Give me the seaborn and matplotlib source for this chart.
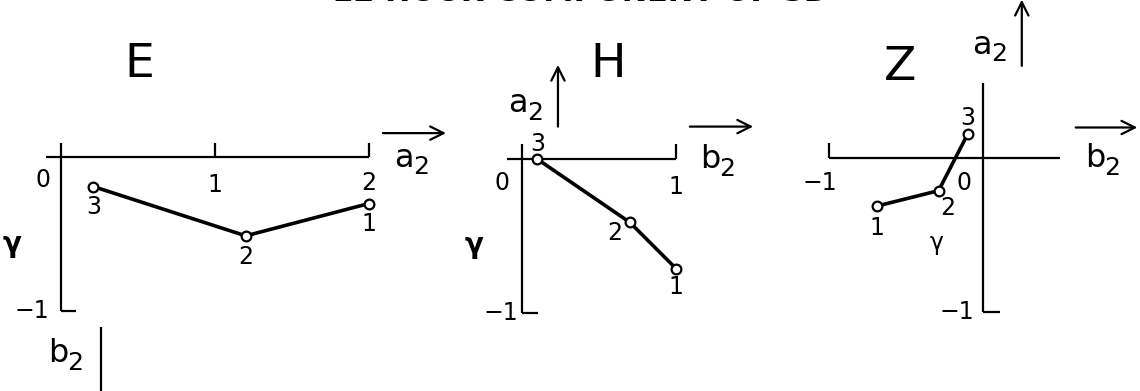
import matplotlib
matplotlib.use("Agg")
import matplotlib.pyplot as plt
import seaborn as sns
import pandas as pd

# Phase trajectories of the 12-hour component for the three field components.
station_labels = ["1", "2", "3"]

# E: horizontal a2, vertical b2
e_a2 = [2.00, 1.20, 0.21]
e_b2 = [-0.30, -0.51, -0.19]

# H: horizontal b2, vertical a2
h_b2 = [1.00, 0.70, 0.10]
h_a2 = [-0.71, -0.41, 0.00]

# Z: horizontal b2, vertical a2
z_b2 = [-0.69, -0.29, -0.10]
z_a2 = [-0.31, -0.21, 0.16]

title_text = "12 HOUR COMPONENT OF SD"

sns.set_theme(style="white")
plt.rcParams["font.family"] = ["DejaVu Sans"]

W, H = 1140, 391
fig = plt.figure(figsize=(W / 100, H / 100), dpi=100)
fig.patch.set_facecolor("white")

INK = "black"
AX_LW = 1.6
TICK_FS = 17
TITLE_FS = 34


def panel(origin, scale, xlim, ylim):
    ox, oy = origin
    left = (ox + xlim[0] * scale) / W
    width = (xlim[1] - xlim[0]) * scale / W
    bottom = 1 - (oy - ylim[0] * scale) / H
    height = (ylim[1] - ylim[0]) * scale / H
    ax = fig.add_axes([left, bottom, width, height])
    ax.set_xlim(xlim)
    ax.set_ylim(ylim)
    ax.axis("off")
    return ax


def seg(ax, xs, ys, lw=AX_LW):
    ax.plot(xs, ys, color=INK, lw=lw, solid_capstyle="butt", clip_on=False)


def txt(ax, x, y, s, fs=TICK_FS, **kw):
    ax.text(x, y, s, fontsize=fs, color=INK, ha="center", va="center",
            clip_on=False, **kw)


def arrow(ax, start, end):
    ax.annotate("", xy=end, xytext=start, xycoords="data",
                arrowprops=dict(arrowstyle="->", color=INK, lw=1.6,
                                mutation_scale=24, shrinkA=0, shrinkB=0),
                annotation_clip=False)


def sub_label(ax, x, y, letter):
    # letter followed by a lowered "2"; (x, y) is the letter's right edge / baseline
    ax.text(x, y, letter, fontsize=23, color=INK, ha="right",
            va="baseline", clip_on=False)
    ax.text(x - 0.005, y - 0.05, "2", fontsize=18, color=INK,
            ha="left", va="baseline", clip_on=False)


def trajectory(ax, xs, ys):
    df = pd.DataFrame({"x": xs, "y": ys, "station": station_labels})
    sns.lineplot(data=df, x="x", y="y", sort=False, estimator=None, ax=ax,
                 color=INK, lw=2.6, marker="o", markersize=7,
                 markerfacecolor="white", markeredgecolor=INK,
                 markeredgewidth=1.6, legend=False)
    for line in ax.lines:
        line.set_clip_on(False)
    ax.set_xlabel("")
    ax.set_ylabel("")


def station_tags(ax, xs, ys, offsets):
    for xv, yv, s, (dx, dy) in zip(xs, ys, station_labels, offsets):
        txt(ax, xv + dx, yv + dy, s)


# ---------------- E ----------------
axE = panel((61, 157.3), 154, (-0.4, 2.6), (-1.6, 0.7))
seg(axE, [-0.10, 2.0], [0, 0])
seg(axE, [0, 0], [0.09, -1.0])
seg(axE, [0, 0.10], [-1.0, -1.0])
seg(axE, [1, 1], [0, 0.09])
seg(axE, [2, 2], [0, 0.09])
trajectory(axE, e_a2, e_b2)
txt(axE, -0.12, -0.15, "0")
txt(axE, 1.0, -0.18, "1")
txt(axE, 2.0, -0.17, "2")
txt(axE, -0.19, -1.0, "\u22121")
txt(axE, -0.32, -0.56, "\u03b3", fs=20, fontweight="bold")
station_tags(axE, e_a2, e_b2, [(0, -0.13), (0, -0.14), (0, -0.13)])
txt(axE, 0.51, 0.60, "E", fs=TITLE_FS)
arrow(axE, (2.09, 0.157), (2.50, 0.157))
sub_label(axE, 2.29, -0.06, "a")
seg(axE, [0.26, 0.26], [-1.10, -1.70], lw=1.6)
sub_label(axE, 0.045, -1.33, "b")

# ---------------- H ----------------
axH = panel((521.7, 159), 154.3, (-0.45, 1.55), (-1.6, 0.7))
seg(axH, [-0.095, 1.0], [0, 0])
seg(axH, [0, 0], [0.097, -1.0])
seg(axH, [0, 0.105], [-1.0, -1.0])
seg(axH, [1, 1], [0, 0.097])
trajectory(axH, h_b2, h_a2)
txt(axH, -0.13, -0.155, "0")
txt(axH, 1.0, -0.18, "1")
txt(axH, -0.135, -1.0, "\u22121")
txt(axH, -0.31, -0.555, "\u03b3", fs=20, fontweight="bold")
station_tags(axH, h_b2, h_a2, [(0, -0.12), (-0.10, -0.07), (0.005, 0.10)])
txt(axH, 0.56, 0.61, "H", fs=TITLE_FS)
arrow(axH, (1.09, 0.21), (1.50, 0.21))
sub_label(axH, 1.285, -0.058, "b")
arrow(axH, (0.235, 0.21), (0.235, 0.61))
sub_label(axH, 0.04, 0.305, "a")

# ---------------- Z ----------------
axZ = panel((983.3, 158.3), 154, (-1.1, 1.05), (-1.1, 1.05))
seg(axZ, [-1.0, 0.50], [0, 0])
seg(axZ, [0, 0], [0.49, -1.0])
seg(axZ, [0, 0.11], [-1.0, -1.0])
seg(axZ, [-1, -1], [0, 0.10])
trajectory(axZ, z_b2, z_a2)
txt(axZ, -1.06, -0.16, "\u22121")
txt(axZ, -0.125, -0.16, "0")
txt(axZ, -0.17, -1.0, "\u22121")
txt(axZ, -0.30, -0.55, "\u03b3", fs=17)
station_tags(axZ, z_b2, z_a2, [(0, -0.14), (0.06, -0.11), (0, 0.10)])
txt(axZ, -0.54, 0.59, "Z", fs=TITLE_FS)
arrow(axZ, (0.60, 0.20), (1.00, 0.20))
sub_label(axZ, 0.79, -0.056, "b")
arrow(axZ, (0.25, 0.60), (0.25, 1.03))
sub_label(axZ, 0.056, 0.68, "a")

# Title sits at the very top edge of the sheet
fig.text(581 / W, 1 - 1 / H, title_text, fontsize=22, fontweight="bold",
         ha="center", va="baseline", color=INK)

fig.savefig("out.png", dpi=100, facecolor="white")
